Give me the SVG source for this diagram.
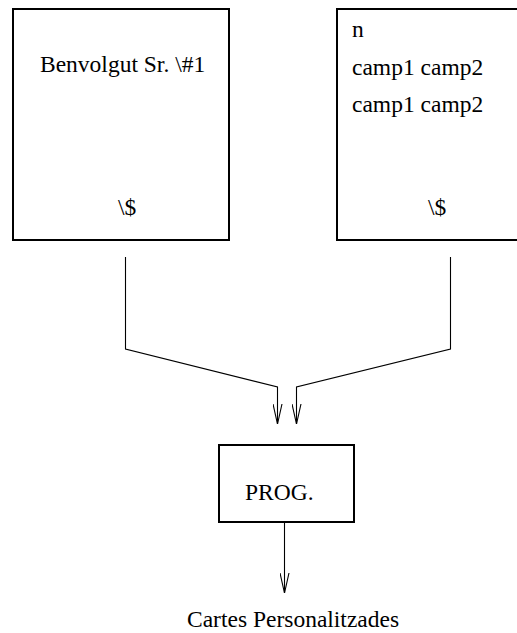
<svg xmlns="http://www.w3.org/2000/svg" width="517" height="633" viewBox="0 0 517 633">
  <style>
    .box { fill: #ffffff; stroke: #000000; stroke-width: 2; }
    .lbl { font-family: "Liberation Serif", "Times New Roman", serif; font-size: 23.5px; fill: #000000; }
    .wire { fill: none; stroke: #000000; stroke-width: 1.1; }
  </style>
  <defs>
    <!-- open V arrowhead used by every connector -->
    <marker id="vee" viewBox="0 0 20 10" refX="20" refY="5" markerWidth="20" markerHeight="10" markerUnits="userSpaceOnUse" orient="auto">
      <path d="M0,0.5 L20,5 L0,9.5" fill="none" stroke="#000000" stroke-width="1.1"/>
    </marker>
  </defs>
  <rect width="517" height="633" fill="#ffffff"/>

  <g id="letter">
    <rect class="box" x="13" y="9" width="216" height="231"/>
    <text class="lbl" x="40" y="72">Benvolgut Sr. \#1</text>
    <text class="lbl" x="118" y="215">\$</text>
  </g>

  <g id="data">
    <rect class="box" x="337" y="9" width="216" height="231"/>
    <text class="lbl" x="352" y="37">n</text>
    <text class="lbl" x="352" y="75">camp1 camp2</text>
    <text class="lbl" x="352" y="112">camp1 camp2</text>
    <text class="lbl" x="428" y="215">\$</text>
  </g>

  <g id="prog">
    <rect class="box" x="219" y="445" width="135" height="77"/>
    <text class="lbl" x="245" y="500">PROG.</text>
  </g>

  <g id="output">
    <text class="lbl" x="187" y="627">Cartes Personalitzades</text>
  </g>

  <g id="connectors">
    <path class="wire" d="M125.5,257 L125.5,349 L277.5,387 L277.5,424" marker-end="url(#vee)"/>
    <path class="wire" d="M450.5,257 L450.5,349 L296.5,387 L296.5,424" marker-end="url(#vee)"/>
    <path class="wire" d="M284.5,523 L284.5,593" marker-end="url(#vee)"/>
  </g>
</svg>
